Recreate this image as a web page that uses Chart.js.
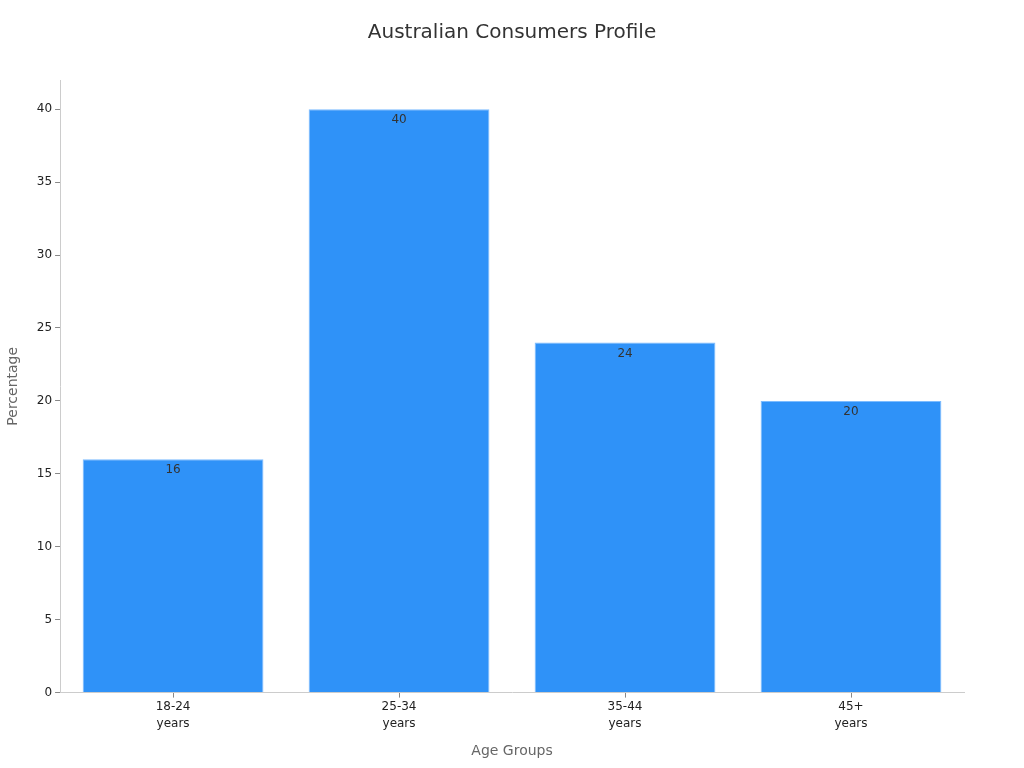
<!DOCTYPE html>
<html lang="en">
<head>
    <meta charset="UTF-8">
    <title>Australian Consumers Profile</title>
    <style>
        html, body { margin: 0; padding: 0; background: #fff; }
        #wrap { width: 1024px; height: 768px; }
    </style>
    <script src="https://cdn.jsdelivr.net/npm/chart.js"></script>
</head>
<body>
    <div id="wrap">
        <canvas id="ageChart" width="1024" height="768"></canvas>
    </div>

    <script>
        // chart data
        const chartTitle = 'Australian Consumers Profile';
        const ageGroups = [['18-24', 'years'], ['25-34', 'years'], ['35-44', 'years'], ['45+', 'years']];
        const percentages = [16, 40, 24, 20];
        const yTicks = [0, 5, 10, 15, 20, 25, 30, 35, 40];

        // draws the value just inside the top of each bar
        const barLabels = {
            id: 'barLabels',
            afterDatasetsDraw(chart) {
                const ctx = chart.ctx;
                const meta = chart.getDatasetMeta(0);
                ctx.save();
                ctx.font = '12px "DejaVu Sans", sans-serif';
                ctx.fillStyle = '#333';
                ctx.textAlign = 'center';
                ctx.textBaseline = 'top';
                meta.data.forEach((bar, i) => {
                    ctx.fillText(String(percentages[i]), bar.x, bar.y + 5);
                });
                ctx.restore();
            }
        };

        // title centred on the whole canvas, not the padded box
        const canvasTitle = {
            id: 'canvasTitle',
            afterDraw(chart) {
                const ctx = chart.ctx;
                ctx.save();
                ctx.font = '20px "DejaVu Sans", sans-serif';
                ctx.fillStyle = '#333';
                ctx.textAlign = 'center';
                ctx.textBaseline = 'middle';
                ctx.fillText(chartTitle, chart.width / 2, 33);
                ctx.restore();
            }
        };

        const ctx = document.getElementById('ageChart').getContext('2d');
        const ageChart = new Chart(ctx, {
            type: 'bar',
            data: {
                labels: ageGroups,
                datasets: [{
                    label: 'Percentage',
                    data: percentages,
                    backgroundColor: '#2f92f8',
                    borderColor: '#7dbcff',
                    borderWidth: 1,
                    barPercentage: 0.8,
                    categoryPercentage: 1.0
                }]
            },
            options: {
                responsive: false,
                animation: false,
                layout: { padding: { left: 1, right: 60, top: 80, bottom: 4 } },
                plugins: {
                    legend: { display: false },
                    tooltip: { enabled: false },
                    title: { display: false }
                },
                scales: {
                    x: {
                        grid: { display: true, offset: false, drawOnChartArea: false, drawTicks: true, tickLength: 5, color: '#888' },
                        border: { color: '#ccc' },
                        ticks: { color: '#222', font: { family: 'DejaVu Sans', size: 12, lineHeight: 1.4 }, padding: 1 },
                        title: {
                            display: true,
                            text: 'Age Groups',
                            color: '#666',
                            font: { family: 'DejaVu Sans', size: 14 },
                            padding: { top: 10 }
                        }
                    },
                    y: {
                        min: 0,
                        max: 42,
                        afterBuildTicks(axis) {
                            axis.ticks = yTicks.map(v => ({ value: v }));
                        },
                        grid: { display: true, drawOnChartArea: false, drawTicks: true, tickLength: 5, color: '#888' },
                        border: { color: '#ccc' },
                        ticks: { color: '#222', font: { family: 'DejaVu Sans', size: 12 }, padding: 3 },
                        title: {
                            display: true,
                            text: 'Percentage',
                            color: '#666',
                            font: { family: 'DejaVu Sans', size: 14 },
                            padding: { bottom: 12 }
                        }
                    }
                }
            },
            plugins: [barLabels, canvasTitle]
        });
    </script>
</body>
</html>
